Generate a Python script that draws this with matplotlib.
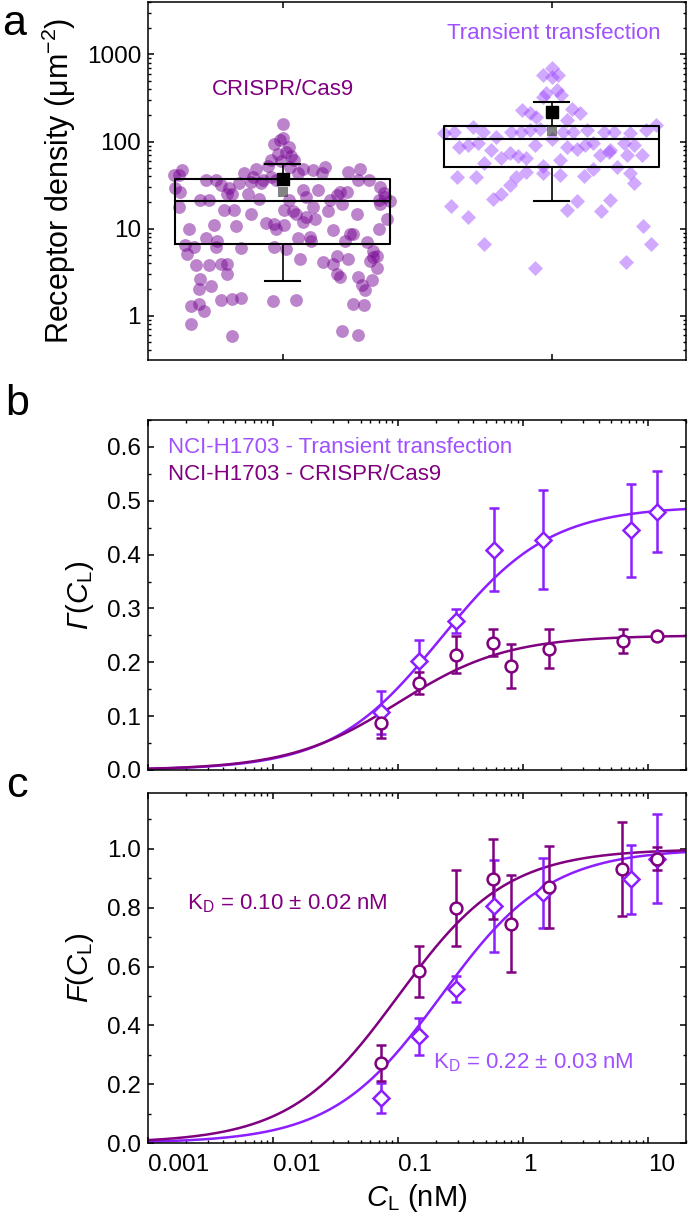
import numpy as np
import matplotlib
matplotlib.use('Agg')
import matplotlib.pyplot as plt
from matplotlib.ticker import LogLocator, MultipleLocator, NullFormatter, FormatStrFormatter

plt.rcParams['font.family'] = ['Liberation Sans', 'DejaVu Sans']
plt.rcParams['mathtext.fontset'] = 'custom'
plt.rcParams['mathtext.rm'] = 'Liberation Sans'
plt.rcParams['mathtext.it'] = 'Liberation Sans:italic'
plt.rcParams['mathtext.bf'] = 'Liberation Sans:bold'
plt.rcParams['mathtext.cal'] = 'Liberation Sans:italic'   # used for the italic capital Gamma
plt.rcParams['axes.linewidth'] = 1.1
for ax_name in ['xtick', 'ytick']:
    plt.rcParams[ax_name + '.direction'] = 'in'
    plt.rcParams[ax_name + '.major.size'] = 4.5
    plt.rcParams[ax_name + '.minor.size'] = 2.5
    plt.rcParams[ax_name + '.major.width'] = 1.1
    plt.rcParams[ax_name + '.minor.width'] = 1.0
    plt.rcParams[ax_name + '.labelsize'] = 17.5
plt.rcParams['xtick.top'] = True
plt.rcParams['ytick.right'] = True

# colours
CR = '#800080'        # CRISPR/Cas9
TT = '#8C1EFF'        # transient transfection (lines)
TT_TEXT = '#A050FF'
CR_PT = '#7A0A96'
TT_PT = '#9B41FF'

# ---- panel a: receptor density (jitter offset from category centre, density in um^-2)
crispr_dx = [0.00, 0.00, -0.01, -0.03, 0.024, 0.014, -0.017, 0.032, -0.042, 0.041, -0.005,
             -0.099, -0.055, 0.029, 0.076, 0.114, 0.157, 0.288, -0.373, -0.404, -0.142, -0.386,
             -0.111, -0.074, 0.057, 0.145, 0.245, -0.248, -0.286, 0.320, -0.042, -0.024,
             -0.230, -0.199, -0.161, -0.117, -0.080, 0.076, 0.132, 0.213, -0.398, -0.380, 0.363, 0.282, 0.376,
             -0.305, -0.273, -0.205, -0.130, -0.186, -0.086, 0.026, 0.089, 0.176, 0.201, 0.238, 0.357, 0.401, 0.382,
             -0.386, -0.217, -0.180, -0.117, 0.007, 0.039, 0.051, 0.114, 0.170, 0.220, 0.276, 0.363, 0.388,
             -0.348, -0.255, -0.174, -0.061, -0.030, -0.024, 0.004, 0.076, 0.089, 0.120, 0.189, 0.251, 0.263, 0.357,
             -0.361, -0.330, -0.286, -0.242, -0.248, -0.155, -0.030, 0.014, 0.057, 0.101, 0.107, 0.232, 0.313, 0.338,
             -0.355, -0.323, -0.273, -0.230, -0.205, 0.064, 0.149, 0.189, 0.201, 0.245, 0.338, 0.351, 0.326,
             -0.305, -0.267, -0.205, -0.311, 0.201, 0.213, 0.282, 0.332, 0.351, 0.295, 0.307,
             -0.230, -0.186, -0.155, -0.036, 0.049, 0.263, 0.303, -0.342, -0.311, -0.292,
             -0.342, -0.186, 0.223, 0.282]
crispr_density = [158, 111, 103, 93, 87, 76, 71, 68, 62, 61, 59,
                  49, 53, 51, 49, 47, 51, 48, 47, 41, 43, 41,
                  39, 36, 43, 43, 45, 36, 36, 36, 39, 36,
                  31.5, 29, 33, 34, 33.5, 27.5, 27.5, 26.4, 29, 26.4, 30, 36, 25.7,
                  21.5, 21.5, 25.2, 24.8, 25.2, 22.1, 21.2, 23.1, 21.5, 24.1, 26.4, 21.2, 20.8, 23.1,
                  17.7, 16.5, 16.5, 14.9, 16.5, 16.0, 14.9, 17.7, 16.0, 19.4, 14.9, 19.0, 13.0,
                  10.0, 10.9, 10.6, 11.6, 11.4, 10.0, 10.9, 11.9, 13.6, 13.0, 9.6, 8.75, 8.75, 10.0,
                  6.4, 6.15, 7.7, 7.3, 6.15, 6.0, 6.15, 5.9, 7.7, 8.0, 7.3, 7.3, 7.0, 5.6,
                  5.15, 3.8, 3.8, 3.95, 3.95, 4.5, 4.1, 3.95, 4.8, 4.5, 4.7, 4.9, 4.3,
                  2.65, 2.17, 3.0, 2.04, 3.0, 2.8, 2.8, 2.55, 3.5, 2.23, 1.95,
                  1.53, 1.57, 1.6, 1.47, 1.5, 1.37, 1.34, 1.28, 1.37, 1.13,
                  0.81, 0.58, 0.66, 0.60]

transient_dx = [0.0, -0.031, 0.025, 0.0, -0.019, 0.019, -0.031, 0.037, -0.109, -0.081, 0.075, 0.106, 0.056, -0.056,
                -0.400, -0.362, -0.293, -0.256, -0.206, -0.150, -0.112, -0.081, -0.044, 0.044, 0.081, 0.131,
                0.194, 0.231, 0.293, 0.350, 0.387,
                -0.343, -0.312, -0.275, -0.225, -0.062, 0.056, 0.094, 0.125, 0.156, 0.218, 0.268, 0.306, 0.0,
                -0.250, -0.187, -0.156, -0.125, -0.094, 0.031, 0.181, 0.212, 0.281, 0.337,
                -0.350, -0.281, -0.131, -0.031, 0.156, 0.243, 0.293,
                -0.156, -0.094, -0.031, 0.031, 0.119, 0.306,
                -0.187, -0.218, -0.375, -0.312, 0.094, 0.059, 0.216, 0.184,
                0.341, 0.371, -0.250, 0.278, -0.062]
transient_density = [690, 578, 578, 553, 356, 389, 326, 340, 229, 210, 239, 210, 176, 192,
                     124, 129, 147, 129, 113, 129, 129, 135, 141, 129, 129, 135,
                     129, 129, 124, 135, 154,
                     87, 91, 95, 79, 91, 87, 83, 91, 95, 79, 95, 91, 108,
                     56, 64, 73, 68, 65, 61, 70, 76, 70, 70,
                     39, 39, 39, 53, 49, 51, 43,
                     31.5, 45, 44, 41, 40, 33,
                     24.8, 22.1, 18.0, 13.6, 20.8, 16.5, 21.5, 16.0,
                     10.6, 6.7, 6.6, 4.1, 3.5]

groups = ['CRISPR/Cas9', 'Transient transfection']
box_q1 = [6.6, 50.7]
box_median = [20.6, 107]
box_q3 = [37.2, 150]
whisker_low = [2.53, 20.6]
whisker_high = [55.8, 285]
group_mean = [37.3, 217]
group_inner = [26.4, 132]

# ---- panel b: fractional occupancy Gamma(C_L)
conc_tt_b = [0.073, 0.146, 0.288, 0.582, 1.445, 7.23, 11.7]
gamma_tt = [0.107, 0.203, 0.277, 0.409, 0.428, 0.445, 0.480]
gamma_tt_err = [0.040, 0.039, 0.022, 0.077, 0.092, 0.087, 0.075]
conc_cr_b = [0.073, 0.146, 0.292, 0.574, 0.795, 1.60, 6.3, 11.7]
gamma_cr = [0.087, 0.162, 0.214, 0.236, 0.193, 0.225, 0.239, 0.248]
gamma_cr_err = [0.027, 0.020, 0.034, 0.025, 0.041, 0.036, 0.022, 0.006]

# ---- panel c: normalised F(C_L)
conc_tt_c = [0.073, 0.146, 0.288, 0.582, 1.445, 7.23, 11.7]
f_tt = [0.153, 0.363, 0.524, 0.805, 0.850, 0.896, 0.967]
f_tt_err = [0.051, 0.063, 0.045, 0.156, 0.118, 0.116, 0.150]
conc_cr_c = [0.073, 0.146, 0.292, 0.574, 0.795, 1.60, 6.2, 11.7]
f_cr = [0.272, 0.584, 0.799, 0.898, 0.745, 0.870, 0.932, 0.967]
f_cr_err = [0.062, 0.086, 0.130, 0.137, 0.165, 0.139, 0.160, 0.040]

# Langmuir fit parameters
kd_cr, kd_tt = 0.10, 0.22
gmax_cr, gmax_tt = 0.25, 0.49

W, H = 688, 1226
fig = plt.figure(figsize=(W / 100, H / 100), dpi=100)
ax_a = fig.add_axes([148 / W, 1 - 360 / H, 538 / W, 358 / H])
ax_b = fig.add_axes([148 / W, 1 - 770 / H, 538 / W, 350 / H])
ax_c = fig.add_axes([148 / W, 1 - 1143 / H, 538 / W, 350 / H])

# ---------------- panel a
ax_a.set_yscale('log')
ax_a.scatter(1 + np.array(crispr_dx), crispr_density, s=85, marker='o', color=CR_PT,
             alpha=0.5, linewidths=0, zorder=2)
ax_a.scatter(2 + np.array(transient_dx), transient_density, s=58, marker='D', color=TT_PT,
             alpha=0.45, linewidths=0, zorder=2)
stats = []
for i in range(2):
    stats.append(dict(label=groups[i], q1=box_q1[i], med=box_median[i], q3=box_q3[i],
                      whislo=whisker_low[i], whishi=whisker_high[i], mean=group_mean[i], fliers=[]))
ax_a.bxp(stats, positions=[1, 2], widths=0.8, showmeans=True, manage_ticks=False,
         capwidths=0.13, zorder=3,
         boxprops=dict(color='black', lw=1.5),
         medianprops=dict(color='black', lw=1.5),
         whiskerprops=dict(color='black', lw=1.2),
         capprops=dict(color='black', lw=1.5),
         meanprops=dict(marker='s', markerfacecolor='black', markeredgecolor='black', markersize=8))
ax_a.scatter([1, 2], group_inner, marker='s', s=60, color='#303030', alpha=0.6, linewidths=0, zorder=4)

ax_a.set_xlim(0.5, 2.5)
ax_a.set_ylim(0.31, 4000)
ax_a.set_xticks([1, 2])
ax_a.set_xticklabels([])
ax_a.set_yticks([1, 10, 100, 1000])
ax_a.set_yticklabels(['1', '10', '100', '1000'])
ax_a.yaxis.set_minor_locator(LogLocator(base=10, subs=range(2, 10)))
ax_a.yaxis.set_minor_formatter(NullFormatter())
ax_a.tick_params(axis='y', pad=5)
ax_a.set_ylabel('Receptor density (μm$^{-2}$)', fontsize=22, labelpad=6)
ax_a.text(1, 400, 'CRISPR/Cas9', color=CR, fontsize=16, ha='center', va='center')
ax_a.text(2.007, 1760, 'Transient transfection', color=TT_TEXT, fontsize=16, ha='center', va='center')

# ---------------- fit curves
c_fit = np.logspace(np.log10(0.001), np.log10(20), 300)

# ---------------- panel b
ax_b.set_xscale('log')
ax_b.plot(c_fit, gmax_tt * c_fit / (c_fit + kd_tt), color=TT, lw=1.8, zorder=2)
ax_b.plot(c_fit, gmax_cr * c_fit / (c_fit + kd_cr), color=CR, lw=1.8, zorder=2)
ax_b.errorbar(conc_tt_b, gamma_tt, yerr=gamma_tt_err, fmt='D', ms=8, mfc='white', mec=TT, mew=1.8,
              ecolor=TT, elinewidth=1.8, capsize=3.5, capthick=1.8, zorder=3)
ax_b.errorbar(conc_cr_b, gamma_cr, yerr=gamma_cr_err, fmt='o', ms=8.5, mfc='white', mec=CR, mew=1.8,
              ecolor=CR, elinewidth=1.8, capsize=3.5, capthick=1.8, zorder=3)
ax_b.set_xlim(0.001, 20)
ax_b.set_ylim(0, 0.65)
ax_b.set_yticks(np.arange(0, 0.61, 0.1))
ax_b.yaxis.set_major_formatter(FormatStrFormatter('%.1f'))
ax_b.yaxis.set_minor_locator(MultipleLocator(0.05))
ax_b.set_xticks([0.001, 0.01, 0.1, 1, 10])
ax_b.xaxis.set_minor_locator(LogLocator(base=10, subs=range(2, 10)))
ax_b.xaxis.set_minor_formatter(NullFormatter())
ax_b.set_xticklabels([])
ax_b.tick_params(axis='y', pad=5)
ax_b.set_ylabel(r'$\mathcal{Γ}$($\mathit{C}_\mathrm{L}$)', fontsize=21, labelpad=8)
ax_b.text(0.037, 0.92, 'NCI-H1703 - Transient transfection', color=TT_TEXT, fontsize=16,
          ha='left', va='center', transform=ax_b.transAxes)
ax_b.text(0.037, 0.843, 'NCI-H1703 - CRISPR/Cas9', color=CR, fontsize=16,
          ha='left', va='center', transform=ax_b.transAxes)

# ---------------- panel c
ax_c.set_xscale('log')
ax_c.plot(c_fit, c_fit / (c_fit + kd_tt), color=TT, lw=1.8, zorder=2)
ax_c.plot(c_fit, c_fit / (c_fit + kd_cr), color=CR, lw=1.8, zorder=2)
ax_c.errorbar(conc_tt_c, f_tt, yerr=f_tt_err, fmt='D', ms=8, mfc='white', mec=TT, mew=1.8,
              ecolor=TT, elinewidth=1.8, capsize=3.5, capthick=1.8, zorder=3)
ax_c.errorbar(conc_cr_c, f_cr, yerr=f_cr_err, fmt='o', ms=8.5, mfc='white', mec=CR, mew=1.8,
              ecolor=CR, elinewidth=1.8, capsize=3.5, capthick=1.8, zorder=3)
ax_c.set_xlim(0.001, 20)
ax_c.set_ylim(0, 1.19)
ax_c.set_yticks(np.arange(0, 1.01, 0.2))
ax_c.yaxis.set_major_formatter(FormatStrFormatter('%.1f'))
ax_c.yaxis.set_minor_locator(MultipleLocator(0.1))
ax_c.set_xticks([0.001, 0.01, 0.1, 1, 10])
ax_c.set_xticklabels(['0.001', '0.01', '0.1', '1', '10'])
for lab in ax_c.get_xticklabels():
    lab.set_horizontalalignment('left')
ax_c.xaxis.set_minor_locator(LogLocator(base=10, subs=range(2, 10)))
ax_c.xaxis.set_minor_formatter(NullFormatter())
ax_c.tick_params(axis='y', pad=5)
ax_c.tick_params(axis='x', pad=8)
ax_c.set_ylabel(r'$\mathit{F}$($\mathit{C}_\mathrm{L}$)', fontsize=21, labelpad=8)
ax_c.set_xlabel(r'$\mathit{C}_\mathrm{L}$ (nM)', fontsize=21, labelpad=4)
ax_c.text(0.0725, 0.683, r'K$_\mathrm{D}$ = 0.10 ± 0.02 nM', color=CR, fontsize=16,
          ha='left', va='center', transform=ax_c.transAxes)
ax_c.text(0.53, 0.229, r'K$_\mathrm{D}$ = 0.22 ± 0.03 nM', color=TT_TEXT, fontsize=16,
          ha='left', va='center', transform=ax_c.transAxes)

# panel letters
fig.text(14 / W, 1 - 24 / H, 'a', fontsize=31, ha='center', va='center')
fig.text(17 / W, 1 - 404 / H, 'b', fontsize=31, ha='center', va='center')
fig.text(17 / W, 1 - 786 / H, 'c', fontsize=31, ha='center', va='center')

fig.savefig('out.png', dpi=100)
